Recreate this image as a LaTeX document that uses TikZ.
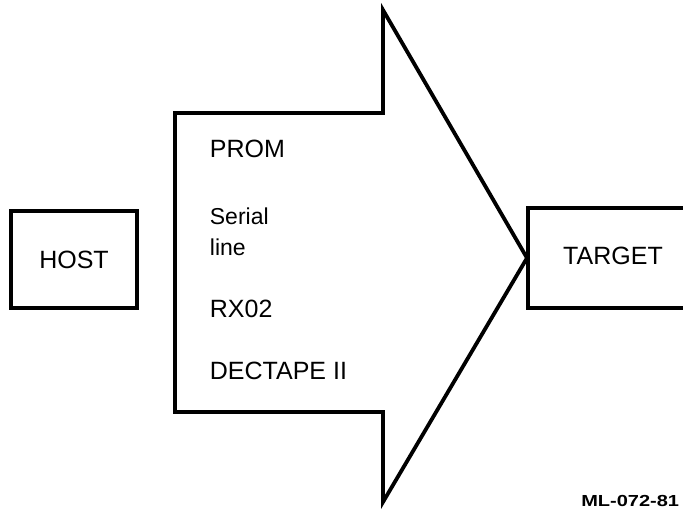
\documentclass[tikz,border=0pt]{standalone}
\usepackage{fontspec}
\setmainfont{Liberation Sans}
\newfontfamily\tagfont[FakeStretch=1.25]{Liberation Sans}
\begin{document}
\begin{tikzpicture}[x=1pt,y=-1pt,
  line width=3.8pt,
  boxstyle/.style={draw,line width=3.8pt,minimum width=126pt,minimum height=97pt,inner sep=0pt,font=\fontsize{25}{30}\selectfont},
  lbl/.style={anchor=base west,inner sep=0pt,font=\fontsize{25}{30}\selectfont},
  tag/.style={anchor=base east,inner sep=0pt,font=\tagfont\fontsize{16}{18}\selectfont\bfseries}]
\useasboundingbox (0,0) rectangle (683,510);
% HOST
\node[boxstyle] (host) at (74,259.5) {HOST};
% TARGET box (open on the right)
\coordinate (ttl) at (528,208);
\coordinate (tbl) at (528,308);
\coordinate (ttr) at (690,208);
\coordinate (tbr) at (690,308);
\draw (ttr) -- (ttl) -- (tbl) -- (tbr);
\node[inner sep=0pt,font=\fontsize{25}{30}\selectfont] (target) at (613,256) {TARGET};
% big arrow
\coordinate (a1) at (175,113);
\coordinate (a2) at (383,113);
\coordinate (a3) at (383,10);
\coordinate (tip) at (527,258);
\coordinate (a5) at (383,502);
\coordinate (a6) at (383,412);
\coordinate (a7) at (175,412);
\draw[line join=miter] (a1) -- (a2) -- (a3) -- (tip) -- (a5) -- (a6) -- (a7) -- cycle;
% labels
\node[lbl] (prom) at (208,158) {PROM};
\node[lbl,font=\fontsize{23}{28}\selectfont] (serial) at (208,225) {Serial};
\node[lbl,font=\fontsize{23}{28}\selectfont] (line) at (208,256) {line};
\node[lbl] (rx) at (208,318) {RX02};
\node[lbl] (dec) at (208,380) {DECTAPE II};
\node[tag] (ml) at (681,506) {ML-072-81};
\end{tikzpicture}
\end{document}
